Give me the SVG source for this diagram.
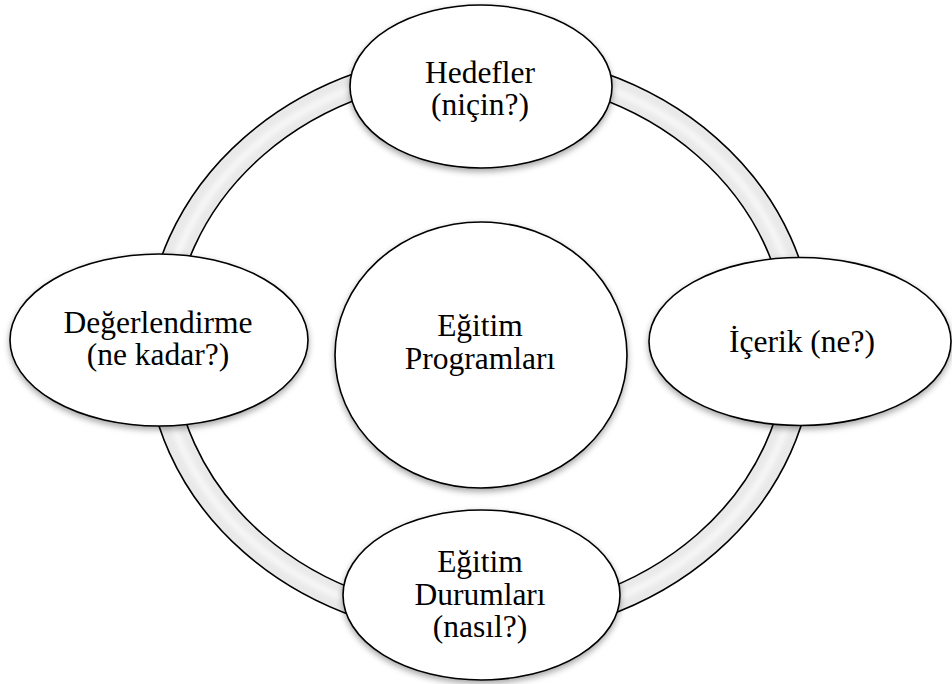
<svg xmlns="http://www.w3.org/2000/svg" width="952" height="684" viewBox="0 0 952 684">
  <defs>
    <filter id="sh" x="-20%" y="-20%" width="140%" height="150%">
      <feDropShadow dx="0" dy="3" stdDeviation="3" flood-color="#000" flood-opacity="0.35"/>
    </filter>
    <filter id="soft" x="-10%" y="-10%" width="120%" height="120%">
      <feGaussianBlur stdDeviation="2.5"/>
    </filter>
    <style>
      .node { fill: #ffffff; stroke: #000000; stroke-width: 1.6; filter: url(#sh); }
      text { font-family: 'Liberation Serif', 'DejaVu Serif', 'Times New Roman', serif; font-size: 31.5px; fill: #000000; text-anchor: middle; }
    </style>
  </defs>
  <rect width="952" height="684" fill="#ffffff"/>

  <g id="connectors">
    <path id="ring" d="M 146 345 A 334 293 0 1 0 814 345 A 334 293 0 1 0 146 345 Z M 173 345 A 307 268 0 1 1 787 345 A 307 268 0 1 1 173 345 Z" fill="#e9e9e9" fill-rule="evenodd" stroke="#000000" stroke-width="1.6"/>
    <ellipse cx="480" cy="345" rx="320" ry="280" fill="none" stroke="#f7f7f7" stroke-width="7" filter="url(#soft)"/>
  </g>

  <g id="node-center">
    <ellipse class="node" cx="481" cy="355" rx="146" ry="133"/>
    <text x="480" y="336">Eğitim</text>
    <text x="480" y="369">Programları</text>
  </g>

  <g id="node-hedefler">
    <ellipse class="node" cx="481" cy="86.5" rx="131" ry="81.5"/>
    <text x="480" y="83">Hedefler</text>
    <text x="480" y="115">(niçin?)</text>
  </g>

  <g id="node-degerlendirme">
    <ellipse class="node" cx="159" cy="340" rx="149" ry="86"/>
    <text x="158" y="333">Değerlendirme</text>
    <text x="158" y="365">(ne kadar?)</text>
  </g>

  <g id="node-icerik">
    <ellipse class="node" cx="800" cy="341.5" rx="151" ry="84"/>
    <text x="802" y="352">İçerik (ne?)</text>
  </g>

  <g id="node-durumlar">
    <ellipse class="node" cx="481.5" cy="595" rx="138.5" ry="85"/>
    <text x="480" y="572">Eğitim</text>
    <text x="480" y="605">Durumları</text>
    <text x="480" y="637">(nasıl?)</text>
  </g>
</svg>
